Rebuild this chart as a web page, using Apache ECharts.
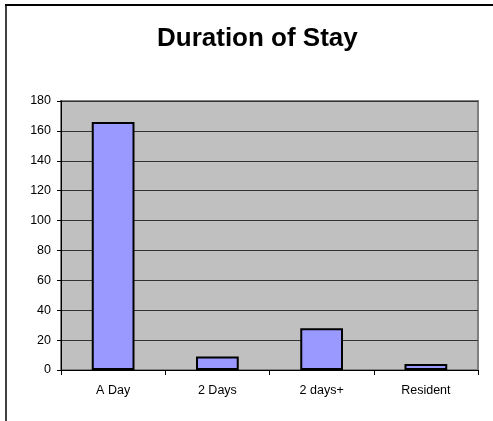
<!DOCTYPE html>
<html>
<head>
<meta charset="utf-8">
<script src="https://cdn.jsdelivr.net/npm/echarts@6/dist/echarts.min.js"></script>
<style>
html,body{margin:0;padding:0;background:#fff;}
#c{width:493px;height:421px;}
</style>
</head>
<body>
<div id="c"></div>
<script>
const categories = ["A Day", "2 Days", "2 days+", "Resident"];
const values = [166, 9, 28, 4];
const yTicks = { min: 0, max: 180, interval: 20 };

const chart = echarts.init(document.getElementById('c'));
chart.setOption({
  animation: false,
  backgroundColor: '#ffffff',
  title: {
    text: 'Duration of Stay',
    left: 152,
    top: 21,
    textStyle: { fontFamily: 'Liberation Sans, Arial, sans-serif', fontSize: 26, fontWeight: 'bold', color: '#000' }
  },
  graphic: [
    { type: 'line', shape: { x1: 6, y1: 5, x2: 6, y2: 421 }, style: { stroke: '#404040', lineWidth: 2 } },
    { type: 'line', shape: { x1: 5, y1: 5, x2: 493, y2: 5 }, style: { stroke: '#000', lineWidth: 2 } }
  ],
  grid: {
    left: 61, right: 15, top: 101, bottom: 51,
    show: true, backgroundColor: '#c0c0c0', borderColor: '#808080', borderWidth: 2
  },
  xAxis: {
    type: 'category',
    data: categories,
    axisLine: { lineStyle: { color: '#000', width: 1 } },
    axisTick: { show: true, length: 5, lineStyle: { color: '#000' } },
    axisLabel: { color: '#000', fontSize: 12.5, fontFamily: 'Liberation Sans, Arial, sans-serif', margin: 14 }
  },
  yAxis: {
    type: 'value',
    min: yTicks.min, max: yTicks.max, interval: yTicks.interval,
    axisLine: { show: true, lineStyle: { color: '#000', width: 1 } },
    axisTick: { show: true, length: 4, lineStyle: { color: '#000' } },
    axisLabel: { color: '#000', fontSize: 12.5, fontFamily: 'Liberation Sans, Arial, sans-serif', margin: 10 },
    splitLine: { show: true, lineStyle: { color: '#333', width: 1 } }
  },
  series: [{
    type: 'bar',
    data: values,
    barCategoryGap: '59%',
    itemStyle: { color: '#9999ff', borderColor: '#000', borderWidth: 2 }
  }]
});
</script>
</body>
</html>
